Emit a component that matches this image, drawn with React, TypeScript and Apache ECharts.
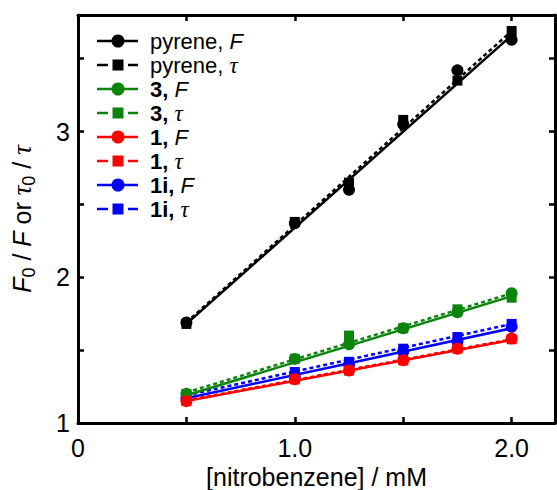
import React, { useEffect, useRef } from "react";
import * as echarts from "echarts";

// ---- data ----
const conc = [0.5, 1.0, 1.25, 1.5, 1.75, 2.0];
const fitConc = [0.5, 2.0];

const pyreneF = [1.69, 2.37, 2.6, 3.05, 3.42, 3.63];
const pyreneTau = [1.68, 2.38, 2.65, 3.08, 3.35, 3.69];
const c3F = [1.2, 1.44, 1.54, 1.65, 1.76, 1.89];
const c3Tau = [1.2, 1.44, 1.6, 1.65, 1.78, 1.86];
const c1F = [1.15, 1.3, 1.36, 1.43, 1.51, 1.58];
const c1Tau = [1.15, 1.3, 1.36, 1.43, 1.51, 1.575];
const c1iF = [1.17, 1.32, 1.4, 1.49, 1.56, 1.66];
const c1iTau = [1.18, 1.35, 1.42, 1.51, 1.59, 1.68];

const pyreneFFit = [1.68, 3.66];
const pyreneTauFit = [1.69, 3.69];
const c3FFit = [1.19, 1.87];
const c3TauFit = [1.21, 1.89];
const c1FFit = [1.15, 1.57];
const c1TauFit = [1.155, 1.575];
const c1iFFit = [1.17, 1.65];
const c1iTauFit = [1.19, 1.68];

const xTickLabels: Record<string, string> = { "0": "0", "1": "1.0", "2": "2.0" };
const yTickLabels: Record<string, string> = { "1": "1", "2": "2", "3": "3" };

const BLACK = "#000000";
const GREEN = "#0b840b";
const RED = "#ff0000";
const BLUE = "#0000ff";

type Entry = {
  label: string;
  color: string;
  tau: boolean;
  values: number[];
  fit: number[];
};

const entries: Entry[] = [
  { label: "{n|pyrene, }{i|F}", color: BLACK, tau: false, values: pyreneF, fit: pyreneFFit },
  { label: "{n|pyrene, }{t|τ}", color: BLACK, tau: true, values: pyreneTau, fit: pyreneTauFit },
  { label: "{b|3, }{i|F}", color: GREEN, tau: false, values: c3F, fit: c3FFit },
  { label: "{b|3, }{t|τ}", color: GREEN, tau: true, values: c3Tau, fit: c3TauFit },
  { label: "{b|1, }{i|F}", color: RED, tau: false, values: c1F, fit: c1FFit },
  { label: "{b|1, }{t|τ}", color: RED, tau: true, values: c1Tau, fit: c1TauFit },
  { label: "{b|1i, }{i|F}", color: BLUE, tau: false, values: c1iF, fit: c1iFFit },
  { label: "{b|1i, }{t|τ}", color: BLUE, tau: true, values: c1iTau, fit: c1iTauFit },
];

// draw order (later on top)
const drawOrder = [6, 7, 2, 3, 0, 1, 4, 5];

const SANS = "Liberation Sans";
const SERIF = "Liberation Serif";

export default function App() {
  const ref = useRef<HTMLDivElement>(null);

  useEffect(() => {
    if (!ref.current) return;
    const chart = echarts.init(ref.current, null, { renderer: "svg" });

    const series: any[] = [];
    drawOrder.forEach((idx) => {
      const e = entries[idx];
      series.push({
        type: "line",
        xAxisIndex: 0,
        yAxisIndex: 0,
        data: fitConc.map((x, i) => [x, e.fit[i]]),
        symbol: "none",
        lineStyle: { color: e.color, width: 2.5, type: e.tau ? [4, 3] : "solid" },
        silent: true,
        z: 2,
      });
    });
    drawOrder.forEach((idx) => {
      const e = entries[idx];
      series.push({
        type: "scatter",
        xAxisIndex: 0,
        yAxisIndex: 0,
        data: conc.map((x, i) => [x, e.values[i]]),
        symbol: e.tau ? "rect" : "circle",
        symbolSize: e.tau ? 10 : 12,
        itemStyle: { color: e.color, opacity: 1 },
        z: 3,
      });
    });

    const legendEls: any[] = [];
    const richBase = {
      n: { fontSize: 22, fontFamily: SANS, fill: "#000" },
      b: { fontSize: 22, fontFamily: SANS, fontWeight: "bold", fill: "#000" },
      i: { fontSize: 22, fontFamily: SANS, fontStyle: "italic", fill: "#000" },
      t: { fontSize: 23, fontFamily: SERIF, fontStyle: "italic", fill: "#000" },
    };
    entries.forEach((e, k) => {
      const y = 41 + k * 24;
      if (e.tau) {
        legendEls.push({ type: "line", shape: { x1: 97, y1: y, x2: 108, y2: y }, style: { stroke: e.color, lineWidth: 2.5 } });
        legendEls.push({ type: "line", shape: { x1: 128, y1: y, x2: 138, y2: y }, style: { stroke: e.color, lineWidth: 2.5 } });
        legendEls.push({ type: "rect", shape: { x: 112.5, y: y - 5.5, width: 11, height: 11 }, style: { fill: e.color } });
      } else {
        legendEls.push({ type: "line", shape: { x1: 97, y1: y, x2: 138, y2: y }, style: { stroke: e.color, lineWidth: 2.5 } });
        legendEls.push({ type: "circle", shape: { cx: 118, cy: y, r: 6.5 }, style: { fill: e.color } });
      }
      legendEls.push({
        type: "text",
        x: 150,
        y: y,
        style: {
          text: e.label,
          rich: richBase,
          fontSize: 22,
          fontFamily: SANS,
          fill: "#000",
          verticalAlign: "middle",
          align: "left",
        },
      });
    });

    const axisCommon = {
      type: "value",
      splitLine: { show: false },
      axisLine: { show: true, onZero: false, lineStyle: { color: "#000", width: 3 } },
      axisTick: { show: true, inside: true, length: 6, lineStyle: { color: "#000", width: 2.5 } },
    };

    chart.setOption({
      animation: false,
      backgroundColor: "#ffffff",
      grid: { left: 78, right: 2, top: 15, bottom: 67, containLabel: false, outerBoundsMode: "none" },
      xAxis: [
        {
          ...axisCommon,
          position: "bottom",
          min: 0,
          max: 2.2,
          interval: 0.5,
          axisLabel: {
            show: true,
            margin: 12,
            fontSize: 25,
            fontFamily: SANS,
            color: "#000",
            formatter: (v: number) => xTickLabels[String(v)] ?? "",
          },
          name: "[nitrobenzene] / mM",
          nameLocation: "middle",
          nameGap: 38,
          nameTextStyle: { fontSize: 25, fontFamily: SANS, color: "#000" },
        },
        {
          ...axisCommon,
          position: "top",
          min: 0,
          max: 2.2,
          interval: 0.5,
          axisLabel: { show: false },
        },
      ],
      yAxis: [
        {
          ...axisCommon,
          position: "left",
          min: 1,
          max: 3.8,
          interval: 0.5,
          axisLabel: {
            show: true,
            margin: 8,
            fontSize: 25,
            fontFamily: SANS,
            color: "#000",
            formatter: (v: number) => yTickLabels[String(v)] ?? "",
          },
          name: "{i|F}{s|0}{n| / }{i|F}{n| or }{t|τ}{s|0}{n| / }{t|τ}",
          nameLocation: "middle",
          nameGap: 40,
          nameRotate: 90,
          nameTextStyle: {
            fontSize: 25,
            fontFamily: SANS,
            color: "#000",
            lineHeight: 32,
            rich: {
              i: { fontSize: 25, fontFamily: SANS, fontStyle: "italic", color: "#000", lineHeight: 32 },
              n: { fontSize: 25, fontFamily: SANS, color: "#000", lineHeight: 32 },
              t: { fontSize: 27, fontFamily: SERIF, fontStyle: "italic", color: "#000", lineHeight: 32 },
              s: { fontSize: 18, fontFamily: SANS, color: "#000", verticalAlign: "bottom", lineHeight: 32 },
            },
          },
        },
        {
          ...axisCommon,
          position: "right",
          min: 1,
          max: 3.8,
          interval: 0.5,
          axisLabel: { show: false },
        },
      ],
      graphic: legendEls,
      series,
    });

    return () => chart.dispose();
  }, []);

  return (
    <div
      ref={ref}
      style={{ position: "fixed", left: 0, top: 0, width: 557, height: 490, background: "#fff" }}
    />
  );
}
